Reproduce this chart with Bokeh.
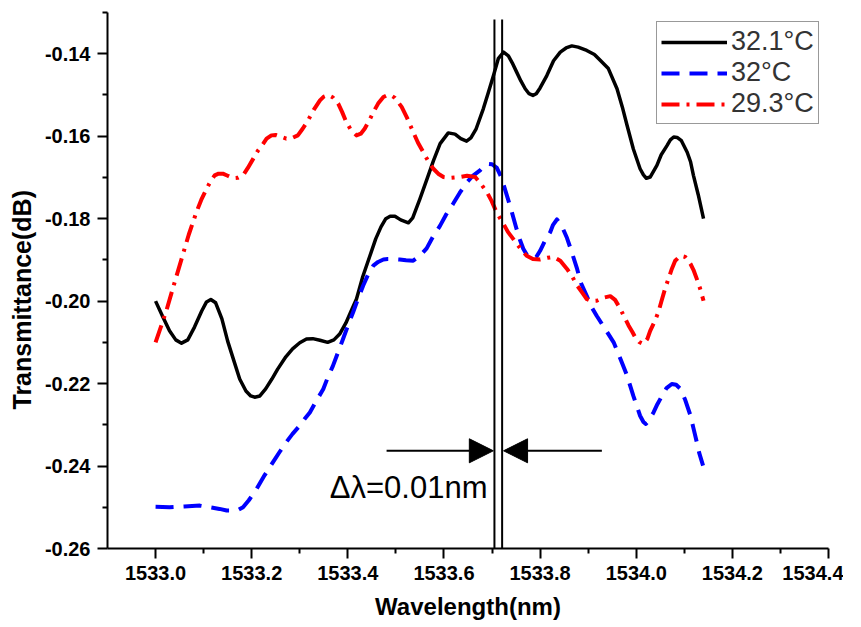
from bokeh.plotting import figure
from bokeh.models import (Range1d, Legend, LegendItem, Arrow, NormalHead, Label, Title,
                          FixedTicker, NumeralTickFormatter)
from bokeh.embed import file_html
from bokeh.resources import INLINE

# ---------------- data ----------------
wl_321 = [1533.000, 1533.015, 1533.029, 1533.042, 1533.054, 1533.067, 1533.081, 1533.096,
          1533.106, 1533.115, 1533.125, 1533.138, 1533.150, 1533.163, 1533.175, 1533.188,
          1533.198, 1533.206, 1533.217, 1533.229, 1533.242, 1533.254, 1533.271, 1533.285,
          1533.300, 1533.314, 1533.327, 1533.342, 1533.358, 1533.371, 1533.383, 1533.396,
          1533.406, 1533.418, 1533.431, 1533.446, 1533.458, 1533.469, 1533.479, 1533.488,
          1533.498, 1533.510, 1533.526, 1533.535, 1533.550, 1533.565, 1533.578, 1533.592,
          1533.609, 1533.623, 1533.635, 1533.647, 1533.656, 1533.667, 1533.682, 1533.692,
          1533.703, 1533.713, 1533.724, 1533.734, 1533.742, 1533.751, 1533.760, 1533.769,
          1533.777, 1533.785, 1533.792, 1533.800, 1533.814, 1533.828, 1533.842, 1533.854,
          1533.866, 1533.879, 1533.897, 1533.913, 1533.925, 1533.942, 1533.960, 1533.971,
          1533.981, 1533.994, 1534.008, 1534.015, 1534.021, 1534.029, 1534.043, 1534.052,
          1534.064, 1534.071, 1534.078, 1534.085, 1534.094, 1534.106, 1534.113, 1534.119,
          1534.129, 1534.140]
t_321 = [-0.2000, -0.2038, -0.2072, -0.2094, -0.2102, -0.2094, -0.2063, -0.2024,
         -0.2002, -0.1996, -0.2004, -0.2043, -0.2097, -0.2145, -0.2189, -0.2218,
         -0.2230, -0.2233, -0.2230, -0.2213, -0.2189, -0.2165, -0.2135, -0.2116,
         -0.2101, -0.2092, -0.2091, -0.2095, -0.2100, -0.2094, -0.2080, -0.2053,
         -0.2026, -0.1995, -0.1941, -0.1890, -0.1849, -0.1820, -0.1800, -0.1794,
         -0.1794, -0.1803, -0.1810, -0.1798, -0.1752, -0.1703, -0.1660, -0.1618,
         -0.1592, -0.1595, -0.1606, -0.1612, -0.1604, -0.1582, -0.1533, -0.1495,
         -0.1453, -0.1412, -0.1396, -0.1405, -0.1422, -0.1444, -0.1466, -0.1485,
         -0.1497, -0.1501, -0.1497, -0.1483, -0.1453, -0.1417, -0.1396, -0.1386,
         -0.1381, -0.1384, -0.1392, -0.1402, -0.1416, -0.1436, -0.1485, -0.1529,
         -0.1574, -0.1631, -0.1679, -0.1694, -0.1702, -0.1699, -0.1671, -0.1645,
         -0.1623, -0.1609, -0.1602, -0.1603, -0.1611, -0.1639, -0.1662, -0.1695,
         -0.1742, -0.1800]

wl_32 = [1533.000, 1533.029, 1533.060, 1533.092, 1533.113, 1533.133, 1533.148, 1533.161,
         1533.171, 1533.182, 1533.194, 1533.210, 1533.227, 1533.244, 1533.258, 1533.272,
         1533.285, 1533.300, 1533.310, 1533.321, 1533.333, 1533.349, 1533.358, 1533.369,
         1533.379, 1533.390, 1533.400, 1533.411, 1533.421, 1533.432, 1533.442, 1533.453,
         1533.463, 1533.474, 1533.483, 1533.494, 1533.508, 1533.521, 1533.536, 1533.550,
         1533.564, 1533.577, 1533.592, 1533.604, 1533.619, 1533.633, 1533.647, 1533.660,
         1533.675, 1533.683, 1533.692, 1533.700, 1533.710, 1533.719, 1533.731, 1533.740,
         1533.751, 1533.758, 1533.765, 1533.773, 1533.783, 1533.792, 1533.800, 1533.810,
         1533.821, 1533.827, 1533.835, 1533.844, 1533.856, 1533.865, 1533.877, 1533.885,
         1533.897, 1533.906, 1533.918, 1533.935, 1533.953, 1533.967, 1533.981, 1533.994,
         1534.008, 1534.015, 1534.020, 1534.027, 1534.036, 1534.044, 1534.054, 1534.063,
         1534.074, 1534.083, 1534.092, 1534.102, 1534.113, 1534.119, 1534.126, 1534.131,
         1534.139]
t_32 = [-0.2499, -0.2500, -0.2498, -0.2496, -0.2500, -0.2504, -0.2508, -0.2508,
        -0.2507, -0.2500, -0.2483, -0.2456, -0.2422, -0.2391, -0.2366, -0.2342,
        -0.2322, -0.2302, -0.2286, -0.2270, -0.2245, -0.2213, -0.2186, -0.2157,
        -0.2126, -0.2092, -0.2060, -0.2027, -0.1995, -0.1962, -0.1936, -0.1914,
        -0.1905, -0.1899, -0.1898, -0.1898, -0.1899, -0.1901, -0.1902, -0.1890,
        -0.1872, -0.1844, -0.1817, -0.1791, -0.1764, -0.1737, -0.1713, -0.1696,
        -0.1683, -0.1673, -0.1667, -0.1668, -0.1677, -0.1699, -0.1744, -0.1779,
        -0.1825, -0.1851, -0.1873, -0.1889, -0.1898, -0.1893, -0.1878, -0.1854,
        -0.1833, -0.1815, -0.1802, -0.1815, -0.1847, -0.1878, -0.1922, -0.1956,
        -0.1987, -0.2012, -0.2036, -0.2067, -0.2100, -0.2140, -0.2181, -0.2230,
        -0.2278, -0.2293, -0.2298, -0.2288, -0.2270, -0.2250, -0.2229, -0.2211,
        -0.2201, -0.2203, -0.2213, -0.2240, -0.2278, -0.2308, -0.2342, -0.2368,
        -0.2399]

wl_293 = [1533.000, 1533.022, 1533.038, 1533.054, 1533.069, 1533.085, 1533.096, 1533.106,
          1533.115, 1533.123, 1533.131, 1533.140, 1533.150, 1533.161, 1533.171, 1533.182,
          1533.192, 1533.203, 1533.213, 1533.224, 1533.231, 1533.241, 1533.250, 1533.260,
          1533.272, 1533.283, 1533.296, 1533.306, 1533.317, 1533.329, 1533.342, 1533.350,
          1533.359, 1533.369, 1533.380, 1533.388, 1533.397, 1533.406, 1533.418, 1533.427,
          1533.435, 1533.444, 1533.453, 1533.463, 1533.474, 1533.481, 1533.488, 1533.498,
          1533.512, 1533.523, 1533.536, 1533.546, 1533.557, 1533.567, 1533.578, 1533.588,
          1533.599, 1533.613, 1533.633, 1533.648, 1533.665, 1533.675, 1533.689, 1533.699,
          1533.710, 1533.724, 1533.733, 1533.744, 1533.758, 1533.772, 1533.785, 1533.800,
          1533.815, 1533.828, 1533.842, 1533.856, 1533.867, 1533.877, 1533.888, 1533.897,
          1533.906, 1533.918, 1533.931, 1533.946, 1533.956, 1533.967, 1533.975, 1533.984,
          1533.992, 1533.998, 1534.006, 1534.015, 1534.023, 1534.029, 1534.038, 1534.046,
          1534.052, 1534.060, 1534.067, 1534.074, 1534.081, 1534.092, 1534.102, 1534.113,
          1534.119, 1534.126, 1534.133, 1534.140]
t_293 = [-0.2100, -0.2025, -0.1961, -0.1898, -0.1839, -0.1784, -0.1752, -0.1728,
         -0.1708, -0.1695, -0.1691, -0.1691, -0.1696, -0.1702, -0.1701, -0.1695,
         -0.1677, -0.1655, -0.1635, -0.1618, -0.1606, -0.1598, -0.1597, -0.1601,
         -0.1606, -0.1605, -0.1598, -0.1582, -0.1562, -0.1536, -0.1513, -0.1504,
         -0.1500, -0.1506, -0.1521, -0.1541, -0.1566, -0.1584, -0.1598, -0.1594,
         -0.1582, -0.1563, -0.1542, -0.1521, -0.1505, -0.1501, -0.1500, -0.1507,
         -0.1529, -0.1555, -0.1590, -0.1616, -0.1639, -0.1660, -0.1679, -0.1691,
         -0.1699, -0.1701, -0.1699, -0.1696, -0.1699, -0.1713, -0.1735, -0.1757,
         -0.1786, -0.1813, -0.1832, -0.1849, -0.1871, -0.1890, -0.1898, -0.1899,
         -0.1895, -0.1893, -0.1902, -0.1922, -0.1941, -0.1962, -0.1980, -0.1995,
         -0.2000, -0.1999, -0.1992, -0.1988, -0.1997, -0.2019, -0.2038, -0.2059,
         -0.2075, -0.2088, -0.2099, -0.2104, -0.2092, -0.2072, -0.2050, -0.2027,
         -0.2002, -0.1970, -0.1946, -0.1922, -0.1902, -0.1890, -0.1893, -0.1910,
         -0.1924, -0.1946, -0.1970, -0.1999]

series_labels = ["32.1°C", "32°C", "29.3°C"]
x_major_ticks = [1533.0, 1533.2, 1533.4, 1533.6, 1533.8, 1534.0, 1534.2, 1534.4]
x_minor_ticks = [1533.1, 1533.3, 1533.5, 1533.7, 1533.9, 1534.1, 1534.3]
y_major_ticks = [-0.26, -0.24, -0.22, -0.20, -0.18, -0.16, -0.14]
y_minor_ticks = [-0.25, -0.23, -0.21, -0.19, -0.17, -0.15, -0.13]

# annotation positions
marker_lines_x = [1533.705, 1533.721]
marker_lines_y = [-0.1317, -0.2660]
arrow_y = -0.2363
arrow_left = (1533.4806, 1533.7027)
arrow_right = (1533.9285, 1533.7240)
delta_text = "Δλ=0.01nm"
delta_pos = (1533.3625, -0.2453)

FONT = "Liberation Sans"

p = figure(frame_width=721, frame_height=536, output_backend="svg", toolbar_location=None,
           x_range=Range1d(1532.9, 1534.4), y_range=Range1d(-0.26, -0.13),
           min_border_left=107, min_border_top=12, min_border_right=15, min_border_bottom=0)
p.outline_line_color = None
p.grid.visible = False
p.background_fill_color = "white"
p.border_fill_color = "white"

for ax in (p.xaxis[0], p.yaxis[0]):
    ax.axis_line_width = 2
    ax.axis_line_color = "black"
    ax.major_tick_line_width = 2
    ax.minor_tick_line_width = 2
    ax.major_tick_out = 10
    ax.major_tick_in = 0
    ax.minor_tick_out = 5
    ax.minor_tick_in = 0
    ax.major_label_text_font = FONT
    ax.major_label_text_font_style = "bold"
    ax.major_label_text_font_size = "20px"
    ax.major_label_text_color = "black"
    ax.axis_label_text_font = FONT
    ax.axis_label_text_font_style = "bold"
    ax.axis_label_text_font_size = "24px"
    ax.axis_label_text_color = "black"

p.xaxis.ticker = FixedTicker(ticks=x_major_ticks, minor_ticks=x_minor_ticks)
p.yaxis.ticker = FixedTicker(ticks=y_major_ticks, minor_ticks=y_minor_ticks)
p.xaxis.formatter = NumeralTickFormatter(format="0.0")
p.yaxis.formatter = NumeralTickFormatter(format="0.00")
p.xaxis.major_label_standoff = 7
p.yaxis.major_label_standoff = 7
p.xaxis.axis_label = "Wavelength(nm)"
p.xaxis.axis_label_standoff = 10

# y-axis title placed as a side title so it can sit where the reference has it
p.add_layout(Title(text="Transmittance(dB)", align="left", offset=139, standoff=11,
                   text_font=FONT, text_font_style="bold", text_font_size="25px",
                   text_color="black"), "left")

r_black = p.line(wl_321, t_321, line_color="black", line_width=3.5, line_join="round")
r_blue = p.line(wl_32, t_32, line_color="#0000ff", line_width=4, line_dash="18 10",
                line_join="round")
r_red = p.line(wl_293, t_293, line_color="#ff0000", line_width=4, line_dash="18 7 3 7",
               line_join="round")

for xv in marker_lines_x:
    p.add_layout(Arrow(end=None, x_start=xv, y_start=marker_lines_y[0], x_end=xv,
                       y_end=marker_lines_y[1], line_color="black", line_width=2))
p.add_layout(Arrow(end=NormalHead(size=24, fill_color="black", line_color="black"),
                   x_start=arrow_left[0], y_start=arrow_y, x_end=arrow_left[1], y_end=arrow_y,
                   line_color="black", line_width=2))
p.add_layout(Arrow(end=NormalHead(size=24, fill_color="black", line_color="black"),
                   x_start=arrow_right[0], y_start=arrow_y, x_end=arrow_right[1], y_end=arrow_y,
                   line_color="black", line_width=2))
p.add_layout(Label(x=delta_pos[0], y=delta_pos[1], text=delta_text, text_font=FONT,
                   text_font_size="31px", text_baseline="alphabetic", text_color="black"))

legend = Legend(items=[LegendItem(label=series_labels[0], renderers=[r_black]),
                       LegendItem(label=series_labels[1], renderers=[r_blue]),
                       LegendItem(label=series_labels[2], renderers=[r_red])],
                location=(549, 424), padding=4, spacing=0,
                glyph_width=66, glyph_height=28, label_height=28, label_standoff=4,
                label_text_font=FONT, label_text_font_size="27px", label_text_color="#333333",
                border_line_color="#333333", border_line_width=1.5,
                background_fill_color="white", background_fill_alpha=1.0)
p.add_layout(legend)

open("out.html", "w").write(file_html(p, INLINE))
